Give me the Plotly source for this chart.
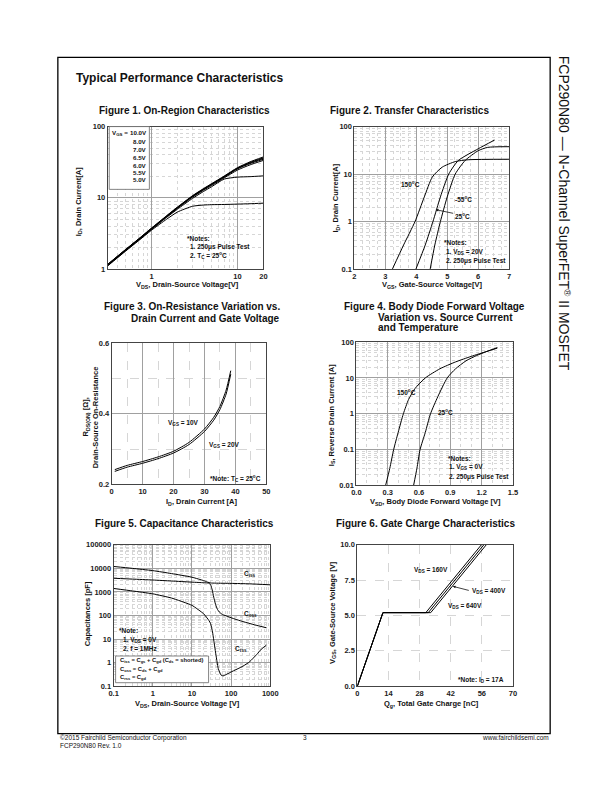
import math
import plotly.graph_objects as go

W, H = 612, 792
FONT = "Liberation Sans"

# ---------------- DATA ----------------
# Figure 1: On-Region Characteristics
f1_vds = [0.3, 0.5, 0.7, 1, 1.5, 2, 3, 4, 5, 7, 10, 14, 20]
f1_vgs_labels = ["10.0V", "8.0V", "7.0V", "6.5V", "6.0V", "5.5V", "5.0V"]
f1_id_10v = [1.13, 1.88, 2.62, 3.75, 5.6, 7.4, 10.7, 13.4, 15.8, 20.2, 26.5, 32.0, 37.5]
f1_id_8v = [1.12, 1.87, 2.60, 3.72, 5.55, 7.3, 10.6, 13.2, 15.6, 19.9, 26.1, 31.3, 36.5]
f1_id_7v = [1.11, 1.86, 2.59, 3.70, 5.5, 7.25, 10.5, 13.1, 15.4, 19.7, 25.8, 30.8, 35.8]
f1_id_65v = [1.10, 1.85, 2.57, 3.67, 5.45, 7.2, 10.4, 13.0, 15.3, 19.5, 25.5, 30.2, 34.8]
f1_id_6v = [1.09, 1.83, 2.55, 3.64, 5.4, 7.1, 10.2, 12.7, 14.9, 19.0, 24.5, 29.0, 33.5]
f1_id_55v = [1.08, 1.80, 2.50, 3.58, 5.3, 6.9, 9.8, 12.2, 14.3, 18.3, 19.5, 19.8, 20.3]
f1_id_5v = [1.07, 1.78, 2.47, 3.50, 5.0, 6.3, 7.6, 7.9, 8.0, 8.05, 8.15, 8.25, 8.4]

# Figure 2: Transfer Characteristics
f2_vgs_150 = [3.23, 3.59, 3.96, 4.26, 4.52, 4.84, 5.26, 5.68, 7.0]
f2_id_150 = [0.1, 0.32, 1, 3.3, 8.7, 14, 18.3, 20, 20.5]
f2_vgs_m55 = [3.99, 4.29, 4.54, 4.78, 5.05, 5.36, 6.0, 6.53]
f2_id_m55 = [0.1, 0.32, 1, 3.3, 10, 19.3, 34, 52]
f2_vgs_25 = [4.45, 4.60, 4.78, 5.0, 5.26, 5.58, 6.0, 6.31, 7.0]
f2_id_25 = [0.1, 0.32, 1, 3.3, 10, 19.3, 31, 36.5, 37.7]

# Figure 3: On-Resistance vs Drain Current
f3_id = [1, 5, 10, 15, 20, 25, 30, 33, 35, 37, 38.5]
f3_r_10v = [0.242, 0.254, 0.265, 0.278, 0.294, 0.319, 0.357, 0.390, 0.421, 0.467, 0.522]
f3_r_20v = [0.237, 0.249, 0.260, 0.273, 0.289, 0.313, 0.350, 0.382, 0.412, 0.456, 0.512]

# Figure 4: Body Diode Forward Voltage
f4_vsd_150 = [0.28, 0.32, 0.357, 0.40, 0.45, 0.50, 0.56, 0.66, 0.80, 0.95, 1.10, 1.25, 1.35]
f4_is_150 = [0.01, 0.03, 0.1, 0.3, 1, 2.5, 5, 10, 18, 28, 40, 55, 68]
f4_vsd_25 = [0.548, 0.58, 0.61, 0.66, 0.71, 0.78, 0.87, 0.95, 1.05, 1.15, 1.25, 1.35]
f4_is_25 = [0.01, 0.03, 0.1, 0.3, 1, 3, 10, 18, 30, 42, 55, 70]

# Figure 5: Capacitance Characteristics
f5_v_ciss = [0.1, 0.3, 1, 3, 10, 20, 25, 30, 40, 100, 300, 1000]
f5_ciss = [12000, 10000, 8000, 6000, 4200, 3000, 2600, 2400, 2350, 2300, 2200, 2000]
f5_v_coss = [0.1, 0.3, 1, 3, 10, 20, 27, 30, 33, 36, 40, 45, 50, 60, 70, 100, 200, 400, 800]
f5_coss = [3800, 3500, 3200, 2900, 2600, 2450, 2350, 2000, 1200, 600, 300, 180, 140, 110, 100, 80, 55, 40, 30]
f5_v_crss = [0.1, 0.3, 1, 3, 10, 20, 27, 30, 33.5, 40, 47, 55, 62, 100, 200, 300, 450, 600, 800]
f5_crss = [1400, 1100, 830, 550, 270, 117, 62, 45, 20, 2.8, 0.56, 0.3, 0.27, 0.4, 0.7, 1.1, 2.2, 3.8, 5.5]

# Figure 6: Gate Charge Characteristics
f6_qg_160 = [0, 11.5, 30.8, 55.8]
f6_qg_400 = [0, 11.5, 31.9, 56.9]
f6_qg_640 = [0, 11.5, 33.0, 58.0]
f6_vgs = [0, 5.2, 5.2, 10]

# ---------------- HELPERS ----------------
def fx(px):
    return px / W

def fy(py):
    return 1 - py / H

boxes = {
    1: (105, 264, 124, 268),
    2: (357, 515, 124, 268),
    3: (109, 267, 343, 486),
    4: (359, 519, 342, 487),
    5: (111, 271, 547, 690),
    6: (360, 519, 547, 690),
}

fig = go.Figure()

def line(x, y, i, width=1.0, shape="spline", smoothing=0.6):
    fig.add_trace(go.Scatter(
        x=x, y=y, mode="lines", xaxis=f"x{i}", yaxis=f"y{i}",
        line=dict(color="black", width=width, shape=shape,
                  smoothing=smoothing if shape == "spline" else None),
        showlegend=False, hoverinfo="skip"))

for ys in [f1_id_10v, f1_id_8v, f1_id_7v, f1_id_65v, f1_id_6v, f1_id_55v, f1_id_5v]:
    line(f1_vds, ys, 1)

line(f2_vgs_150, f2_id_150, 2)
line(f2_vgs_m55, f2_id_m55, 2)
line(f2_vgs_25, f2_id_25, 2)

line(f3_id, f3_r_10v, 3)
line(f3_id, f3_r_20v, 3)

line(f4_vsd_150, f4_is_150, 4)
line(f4_vsd_25, f4_is_25, 4)

line(f5_v_ciss, f5_ciss, 5)
line(f5_v_coss, f5_coss, 5, smoothing=0.5)
line(f5_v_crss, f5_crss, 5, smoothing=0.4)

line(f6_qg_160, f6_vgs, 6, shape="linear")
line(f6_qg_400, f6_vgs, 6, shape="linear")
line(f6_qg_640, f6_vgs, 6, shape="linear")

tickfont = dict(family=FONT, size=7.5, color="#222", weight="bold")
MAJ = "#a0a0a0"
MIN = "#d6d6d6"

def base_axis(i, which):
    x0, x1, y0, y1 = boxes[i]
    d = dict(showline=True, linecolor="#444", linewidth=1, mirror=True,
             showgrid=True, gridcolor=MAJ, gridwidth=0.8, zeroline=False,
             ticks="", tickfont=tickfont, fixedrange=True)
    if which == "x":
        d.update(domain=[fx(x0), fx(x1)], anchor=f"y{i}")
    else:
        d.update(domain=[fy(y1), fy(y0)], anchor=f"x{i}")
    return d

def minor_vals(decades):
    vals = []
    for d in decades:
        for m in range(2, 10):
            vals.append(m * 10 ** d)
    return vals

def minor_style(dash="dot", **kw):
    d = dict(showgrid=True, gridcolor=MIN, griddash=dash, gridwidth=0.7)
    d.update(kw)
    return d

layout_axes = {}
# Fig 1
ax = base_axis(1, "x")
ax.update(type="log", range=[math.log10(0.31), math.log10(20)],
          tickvals=[1, 10, 20], ticktext=["1", "10", "20"],
          minor=minor_style(tickvals=[0.4, 0.5, 0.6, 0.7, 0.8, 0.9, 2, 3, 4, 5, 6, 7, 8, 9]))
layout_axes["xaxis"] = ax
ay = base_axis(1, "y")
ay.update(type="log", range=[0, 2], tickvals=[1, 10, 100], ticktext=["1", "10", "100"],
          minor=minor_style(tickvals=minor_vals([0, 1])))
layout_axes["yaxis"] = ay
# Fig 2
ax = base_axis(2, "x")
ax.update(range=[2, 7], dtick=1, minor=minor_style(dtick=0.25))
layout_axes["xaxis2"] = ax
ay = base_axis(2, "y")
ay.update(type="log", range=[-1, 2], tickvals=[0.1, 1, 10, 100],
          ticktext=["0.1", "1", "10", "100"],
          minor=minor_style(tickvals=minor_vals([-1, 0, 1])))
layout_axes["yaxis2"] = ay
# Fig 3
ax = base_axis(3, "x")
ax.update(range=[0, 50], dtick=10, minor=minor_style("dash", dtick=5))
layout_axes["xaxis3"] = ax
ay = base_axis(3, "y")
ay.update(range=[0.2, 0.6], tickvals=[0.2, 0.4, 0.6], ticktext=["0.2", "0.4", "0.6"],
          minor=minor_style("dash", tickvals=[0.3, 0.5]))
layout_axes["yaxis3"] = ay
# Fig 4
ax = base_axis(4, "x")
ax.update(range=[0, 1.5], dtick=0.3, tickformat=".1f", minor=minor_style(dtick=0.1))
layout_axes["xaxis4"] = ax
ay = base_axis(4, "y")
ay.update(type="log", range=[-2, 2], tickvals=[0.01, 0.1, 1, 10, 100],
          ticktext=["0.01", "0.1", "1", "10", "100"],
          minor=minor_style(tickvals=minor_vals([-2, -1, 0, 1])))
layout_axes["yaxis4"] = ay
# Fig 5
ax = base_axis(5, "x")
ax.update(type="log", range=[-1, 3], tickvals=[0.1, 1, 10, 100, 1000],
          ticktext=["0.1", "1", "10", "100", "1000"],
          minor=minor_style(tickvals=minor_vals([-1, 0, 1, 2])))
layout_axes["xaxis5"] = ax
ay = base_axis(5, "y")
ay.update(type="log", range=[-1, 5], tickvals=[0.1, 1, 10, 100, 1000, 10000, 100000],
          ticktext=["0.1", "1", "10", "100", "1000", "10000", "100000"],
          minor=minor_style(tickvals=minor_vals([-1, 0, 1, 2, 3, 4])))
layout_axes["yaxis5"] = ay
# Fig 6
ax = base_axis(6, "x")
ax.update(range=[0, 70], dtick=14, gridcolor=MIN, griddash="dash")
layout_axes["xaxis6"] = ax
ay = base_axis(6, "y")
ay.update(range=[0, 10], dtick=2.5, tickformat=".1f", gridcolor=MIN, griddash="dash")
layout_axes["yaxis6"] = ay

annotations = []

def ann(text, x, y, size=7, bold=True, xanchor="left", yanchor="middle", angle=0, color="#111"):
    annotations.append(dict(
        text=text, x=fx(x), y=fy(y), xref="paper", yref="paper",
        xanchor=xanchor, yanchor=yanchor, showarrow=False, textangle=angle,
        borderpad=0,
        font=dict(family=FONT, size=size, color=color, weight="bold" if bold else "normal")))

def arrow(x_head, y_head, x_tail, y_tail):
    annotations.append(dict(
        text="", x=fx(x_head), y=fy(y_head), xref="paper", yref="paper",
        ax=x_tail - x_head, ay=y_tail - y_head, axref="pixel", ayref="pixel",
        showarrow=True, arrowhead=2, arrowsize=0.7, arrowwidth=0.8, arrowcolor="#111"))

# Page title
ann("Typical Performance Characteristics", 72, 75, size=12)
# Side text
ann("FCP290N80 — N-Channel SuperFET<sup>®</sup> II MOSFET", 572, 212, size=14,
    bold=False, xanchor="center", angle=90, color="#111")
# Footer
ann("©2015 Fairchild Semiconductor Corporation", 55, 742, size=6.5, bold=False)
ann("FCP290N80 Rev. 1.0", 55, 750, size=6.5, bold=False)
ann("3", 306, 742, size=6.5, bold=False, xanchor="center")
ann("www.fairchildsemi.com", 557, 742, size=6.5, bold=False, xanchor="right")

# Figure titles
ann("Figure 1. On-Region Characteristics", 183, 108, size=10, xanchor="center")
ann("Figure 2. Transfer Characteristics", 413.5, 108, size=10, xanchor="center")
ann("Figure 3. On-Resistance Variation vs.", 282, 306, size=10, xanchor="right")
ann("Drain Current and Gate Voltage", 282, 318, size=10, xanchor="right")
ann("Figure 4. Body Diode Forward Voltage", 345, 306, size=10)
ann("Variation vs. Source Current", 380, 316.7, size=10)
ann("and Temperature", 380, 327.5, size=10)
ann("Figure 5. Capacitance Characteristics", 183, 525.5, size=10, xanchor="center")
ann("Figure 6. Gate Charge Characteristics", 430, 525.5, size=10, xanchor="center")

# Axis labels
ann("I<sub>D</sub>, Drain Current[A]", 75, 200, size=7.5, xanchor="center", angle=-90)
ann("V<sub>DS</sub>, Drain-Source Voltage[V]", 186, 284, size=7.5, xanchor="center")
ann("I<sub>D</sub>, Drain Current[A]", 338, 196, size=7.5, xanchor="center", angle=-90)
ann("V<sub>GS</sub>, Gate-Source Voltage[V]", 436, 284, size=7.5, xanchor="center")
ann("R<sub>DS(ON)</sub> [Ω],", 83, 418, size=7.5, xanchor="center", angle=-90)
ann("Drain-Source On-Resistance", 92, 418, size=7.5, xanchor="center", angle=-90)
ann("I<sub>D</sub>, Drain Current [A]", 201, 504, size=7.5, xanchor="center")
ann("I<sub>S</sub>, Reverse Drain Current [A]", 334, 416, size=7.5, xanchor="center", angle=-90)
ann("V<sub>SD</sub>, Body Diode Forward Voltage [V]", 440, 503.5, size=7.5, xanchor="center")
ann("Capacitances [pF]", 85, 617, size=7.5, xanchor="center", angle=-90)
ann("V<sub>DS</sub>, Drain-Source Voltage [V]", 186, 708.5, size=7.5, xanchor="center")
ann("V<sub>GS</sub>, Gate-Source Voltage [V]", 335, 615, size=7.5, xanchor="center", angle=-90)
ann("Q<sub>g</sub>, Total Gate Charge [nC]", 436, 708.5, size=7.5, xanchor="center")

# Fig 1 legend box
ann("V<sub>GS</sub> =", 108.5, 130, size=6.2)
for lbl, yy in zip(f1_vgs_labels, [130, 139, 147.5, 155.5, 163, 170.5, 178]):
    ann(lbl, 146, yy, size=6.2, xanchor="right")
ann("*Notes:", 185, 237, size=6.5)
ann("1. 250μs Pulse Test", 188.5, 245.5, size=6.5)
ann("2. T<sub>C</sub> = 25<sup>o</sup>C", 188.5, 254.5, size=6.5)

# Fig 2
ann("150<sup>o</sup>C", 414, 182, size=6.5, xanchor="center")
ann("-55<sup>o</sup>C", 468, 197, size=6.5, xanchor="center")
ann("25<sup>o</sup>C", 467, 214, size=6.5, xanchor="center")
arrow(440, 208, 459, 212)
ann("*Notes:", 447.5, 241, size=6.5)
ann("1. V<sub>DS</sub> = 20V", 450, 250.5, size=6.5)
ann("2. 250μs Pulse Test", 450, 260, size=6.5)

# Fig 3
ann("V<sub>GS</sub> = 10V", 166, 424, size=6.5)
ann("V<sub>GS</sub> = 20V", 207, 446, size=6.5)
ann("*Note: T<sub>C</sub> = 25<sup>o</sup>C", 208, 480, size=6.5)

# Fig 4
ann("150<sup>o</sup>C", 399, 392, size=6.5)
ann("25<sup>o</sup>C", 441, 413, size=6.5)
ann("*Notes:", 451.5, 459.5, size=6.5)
ann("1. V<sub>GS</sub> = 0V", 452.5, 468, size=6.5)
ann("2. 250μs Pulse Test", 452.5, 478.5, size=6.5)

# Fig 5
ann("C<sub>iss</sub>", 243, 577, size=6.5)
ann("C<sub>oss</sub>", 243, 617, size=6.5)
ann("C<sub>rss</sub>", 234, 652.5, size=6.5)
ann("*Note:", 115, 634, size=6.5)
ann("1. V<sub>DS</sub> = 0V", 120, 643, size=6.5)
ann("2. f = 1MHz", 120, 652, size=6.5)
ann("C<sub>iss</sub> = C<sub>gs</sub> + C<sub>gd</sub> (C<sub>ds</sub> = shorted)", 116.5, 664.5, size=5.8)
ann("C<sub>oss</sub> = C<sub>ds</sub> + C<sub>gd</sub>", 116.5, 673, size=5.8)
ann("C<sub>rss</sub> = C<sub>gd</sub>", 116.5, 681.5, size=5.8)

# Fig 6
ann("V<sub>DS</sub> = 160V", 417, 572, size=6.5)
ann("V<sub>DS</sub> = 400V", 476, 594, size=6.5)
arrow(457.5, 589, 475, 593.5)
ann("V<sub>DS</sub> = 640V", 452, 608.5, size=6.5)
ann("*Note: I<sub>D</sub> = 17A", 462, 683.5, size=6.5)

shapes = [
    # page border
    dict(type="rect", xref="paper", yref="paper", x0=fx(54), x1=fx(557), y0=fy(738), y1=fy(54),
         line=dict(color="black", width=1.3), fillcolor="rgba(0,0,0,0)", layer="above"),
    # Fig 1 legend box
    dict(type="rect", xref="paper", yref="paper", x0=fx(106.5), x1=fx(147.5), y0=fy(187.5), y1=fy(124),
         line=dict(color="#666", width=0.8), fillcolor="white", layer="above"),
    # Fig 5 formula box
    dict(type="rect", xref="paper", yref="paper", x0=fx(113), x1=fx(208), y0=fy(686.5), y1=fy(659.5),
         line=dict(color="#666", width=0.8), fillcolor="white", layer="above"),
]

fig.update_layout(
    width=W, height=H, margin=dict(l=0, r=0, t=0, b=0),
    paper_bgcolor="white", plot_bgcolor="white",
    showlegend=False, annotations=annotations, shapes=shapes,
    font=dict(family=FONT), **layout_axes)

fig.write_html(
    "out.html",
    config={"displayModeBar": False},
    post_script="document.body.style.margin='0';document.body.style.padding='0';"
                "document.body.style.overflow='hidden';",
)
